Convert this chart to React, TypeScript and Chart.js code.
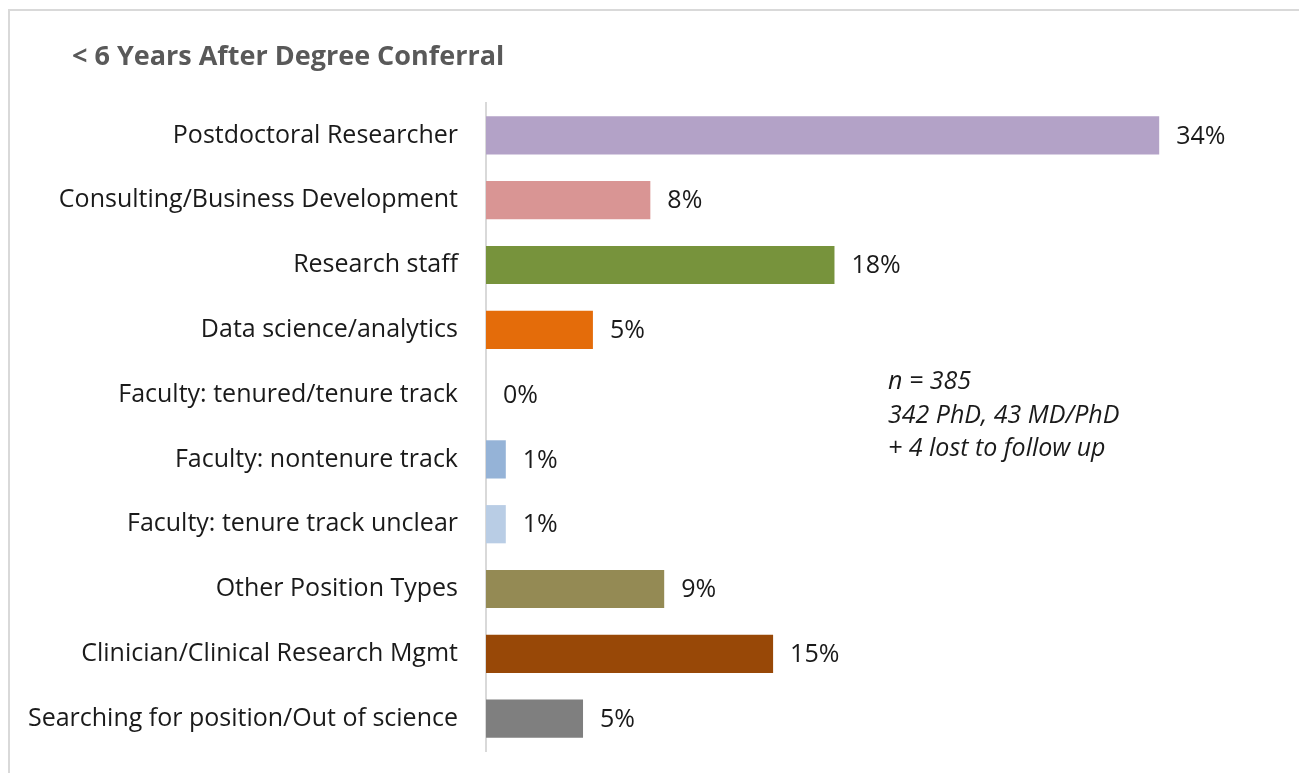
import React, { useEffect, useRef } from "react";
import { Chart, registerables } from "chart.js";

Chart.register(...registerables);

const chartTitle = "< 6 Years After Degree Conferral";
const categories = [
  "Postdoctoral Researcher",
  "Consulting/Business Development",
  "Research staff",
  "Data science/analytics",
  "Faculty: tenured/tenure track",
  "Faculty: nontenure track",
  "Faculty: tenure track unclear",
  "Other Position Types",
  "Clinician/Clinical Research Mgmt",
  "Searching for position/Out of science",
];
const values = [34.0, 8.3, 17.6, 5.4, 0, 1.0, 1.0, 9.0, 14.5, 4.9];
const valueLabels = ["34%", "8%", "18%", "5%", "0%", "1%", "1%", "9%", "15%", "5%"];
const barColors = [
  "#b3a2c7",
  "#d99594",
  "#77933c",
  "#e46c0a",
  "#4f81bd",
  "#95b3d7",
  "#b9cde5",
  "#948a54",
  "#984807",
  "#7f7f7f",
];
const noteLines = ["n = 385", "342 PhD, 43 MD/PhD", "+ 4 lost to follow up"];

const FONT = "'Open Sans', Lato, sans-serif";

const overlayPlugin = {
  id: "overlay",
  afterDraw(chart: any) {
    const ctx = chart.ctx;
    ctx.save();
    // title
    ctx.fillStyle = "#595959";
    ctx.font = `bold 27px ${FONT}`;
    ctx.textAlign = "left";
    ctx.textBaseline = "middle";
    ctx.fillText(chartTitle, 72, 57);
    // value labels
    const meta = chart.getDatasetMeta(0);
    ctx.fillStyle = "#1a1a1a";
    ctx.font = `25px ${FONT}`;
    meta.data.forEach((bar: any, i: number) => {
      ctx.fillText(valueLabels[i], bar.x + 17, bar.y + 1);
    });
    // note
    ctx.font = `italic 25px ${FONT}`;
    noteLines.forEach((line, i) => {
      ctx.fillText(line, 888, 382 + i * 33.5);
    });
    ctx.restore();
  },
};

export default function App() {
  const ref = useRef<HTMLCanvasElement>(null);
  useEffect(() => {
    if (!ref.current) return;
    const chart = new Chart(ref.current, {
      type: "bar",
      data: {
        labels: categories,
        datasets: [
          {
            data: values,
            backgroundColor: barColors,
            barPercentage: 0.59,
            categoryPercentage: 1,
          },
        ],
      },
      options: {
        indexAxis: "y",
        animation: false,
        responsive: false,
        maintainAspectRatio: false,
        layout: { padding: { top: 103, bottom: 22, right: 21, left: 0 } },
        plugins: {
          legend: { display: false },
          tooltip: { enabled: false },
          title: { display: false },
        },
        scales: {
          x: { display: false, min: 0, max: 40 },
          y: {
            grid: { display: false },
            border: { display: true, color: "#d9d9d9", width: 2 },
            ticks: {
              padding: 20,
              color: "#1a1a1a",
              font: { family: FONT, size: 25 },
            },
            afterFit: (scale: any) => {
              scale.width = 486;
              scale.paddingTop = 0;
              scale.paddingBottom = 0;
            },
          },
        },
      },
      plugins: [overlayPlugin],
    });
    return () => chart.destroy();
  }, []);
  return (
    <div
      style={{
        position: "fixed",
        left: 0,
        top: 0,
        width: 1299,
        height: 773,
        background: "#fff",
        overflow: "hidden",
      }}
    >
      <div
        style={{
          position: "absolute",
          left: 8,
          top: 9,
          width: 1400,
          height: 900,
          borderTop: "2px solid #d9d9d9",
          borderLeft: "2px solid #d9d9d9",
        }}
      />
      <canvas
        ref={ref}
        width={1299}
        height={773}
        style={{ position: "absolute", left: 0, top: 0, width: 1299, height: 773 }}
      />
    </div>
  );
}
